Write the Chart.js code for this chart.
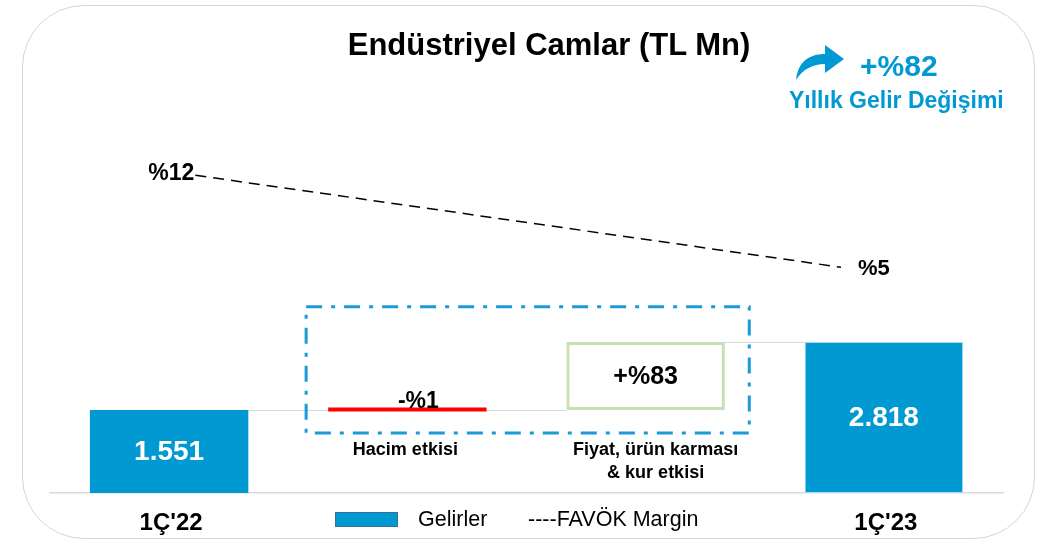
<!DOCTYPE html>
<html>
<head>
<meta charset="utf-8">
<script src="https://cdn.jsdelivr.net/npm/chart.js@4.4.1/dist/chart.umd.min.js"></script>
<style>
    html, body {
        margin: 0;
        padding: 0;
        background: #ffffff;
        font-family: "Liberation Sans", Arial, sans-serif;
    }
    #wrap {
        position: relative;
        width: 1042px;
        height: 542px;
        overflow: hidden;
    }
    #card {
        position: absolute;
        left: 22px;
        top: 5px;
        width: 1011px;
        height: 532px;
        border: 1.5px solid #d6d6d6;
        border-radius: 62px;
    }
    #chartBox {
        position: absolute;
        left: 0;
        top: 0;
        width: 1042px;
        height: 542px;
    }
    #title {
        position: absolute;
        left: 0;
        top: 27px;
        width: 1098px;
        text-align: center;
        font-weight: bold;
        font-size: 31px;
        line-height: 36px;
        color: #000000;
    }
    #yoy {
        position: absolute;
        left: 860px;
        top: 48px;
        font-weight: bold;
        font-size: 30px;
        line-height: 36px;
        color: #0099d4;
    }
    #yoyText {
        position: absolute;
        left: 789px;
        top: 86px;
        font-weight: bold;
        font-size: 23px;
        line-height: 28px;
        color: #0099d4;
    }
    #arrow {
        position: absolute;
        left: 794px;
        top: 42px;
    }
    .legend {
        position: absolute;
        top: 506px;
        font-size: 21.5px;
        line-height: 26px;
        color: #000000;
    }
    #legSwatch {
        position: absolute;
        left: 335px;
        top: 512px;
        width: 61px;
        height: 13px;
        background: #0099d1;
        border: 1.5px solid #3a6e9c;
    }
</style>
</head>
<body>
<div id="wrap">
    <div id="card"></div>
    <div id="chartBox"><canvas id="chart" width="1042" height="542"></canvas></div>
    <div id="title">Endüstriyel Camlar (TL Mn)</div>
    <svg id="arrow" width="52" height="40" viewBox="0 0 52 40">
        <path d="M2 38 C4 20 15 12 31 12 L31 3 L50 17 L31 31 L31 22 C19 22 9 27 2 38 Z" fill="#0099d4"></path>
    </svg>
    <div id="yoy">+%82</div>
    <div id="yoyText">Yıllık Gelir Değişimi</div>
    <div id="legSwatch"></div>
    <div class="legend" style="left:418px;">Gelirler</div>
    <div class="legend" style="left:528px;">----FAVÖK Margin</div>
</div>
<script>
    // categories along the bottom
    const categories = ["1Ç'22", 'Hacim etkisi', 'Fiyat, ürün karması & kur etkisi', "1Ç'23"];
    const tickLabels = ["1Ç'22", '', '', "1Ç'23"];
    const noteLabels = [null, ['Hacim etkisi'], ['Fiyat, ürün karması', '& kur etkisi'], null];

    // revenue bridge (TL Mn): start, volume effect, price/mix/fx effect, end
    const revenue = [1551, [1522, 1597], [1551, 2818], 2818];
    const valueLabels = ['1.551', '', '', '2.818'];
    const changeLabels = ['', '-%1', '+%83', ''];

    // FAVÖK margin (%), drawn on its own hidden x scale
    const marginX = [0.11, 2.82];
    const marginY = [12, 5];
    const marginLabels = ['%12', '%5'];

    const barColors = ['#0099d1', '#ff0000', 'rgba(255,255,255,0)', '#0099d1'];
    const barBorders = ['#0099d1', '#ff0000', '#c5e0b4', '#a9dcf2'];
    const barBorderWidths = [0, 0, 3, 1];

    const FONT = '"Liberation Sans", Arial, sans-serif';

    const bridgePlugin = {
        id: 'bridgeDecor',
        beforeDatasetsDraw(chart) {
            const ctx = chart.ctx;
            const y = chart.scales.y;
            const bars = chart.getDatasetMeta(0).data;

            // connectors between bars
            ctx.save();
            ctx.strokeStyle = '#d9d9d9';
            ctx.lineWidth = 1;
            ctx.beginPath();
            const y1 = Math.round(y.getPixelForValue(revenue[0])) + 0.5;
            ctx.moveTo(bars[0].x + bars[0].width / 2, y1);
            ctx.lineTo(bars[2].x - bars[2].width / 2, y1);
            const y2 = Math.round(y.getPixelForValue(revenue[3])) + 0.5;
            ctx.moveTo(bars[2].x + bars[2].width / 2, y2);
            ctx.lineTo(bars[3].x - bars[3].width / 2, y2);
            ctx.stroke();
            ctx.restore();
        },
        afterDatasetsDraw(chart) {
            const ctx = chart.ctx;
            const y = chart.scales.y;
            const x = chart.scales.x;
            const bars = chart.getDatasetMeta(0).data;
            const step = x.getPixelForValue(1) - x.getPixelForValue(0);
            const bottomPx = chart.chartArea.bottom;

            // dash-dot frame round the two effects
            ctx.save();
            ctx.strokeStyle = '#1a9ad6';
            ctx.lineWidth = 3;
            ctx.setLineDash([16, 9, 4, 9]);
            const left = x.getPixelForValue(1) - step * 0.425;
            const right = x.getPixelForValue(2) + step * 0.435;
            const top = y.getPixelForValue(3480);
            const bottom = y.getPixelForValue(1120);
            ctx.strokeRect(left, top, right - left, bottom - top);
            ctx.restore();

            ctx.save();
            ctx.textAlign = 'center';
            ctx.textBaseline = 'middle';

            // values inside the revenue bars
            ctx.fillStyle = '#ffffff';
            ctx.font = 'bold 28px ' + FONT;
            bars.forEach((bar, i) => {
                if (valueLabels[i]) {
                    ctx.fillText(valueLabels[i], bar.x, (bar.y + bar.base) / 2 + 1);
                }
            });

            // change labels
            ctx.fillStyle = '#000000';
            ctx.font = 'bold 23px ' + FONT;
            ctx.fillText(changeLabels[1], bars[1].x + 11, bars[1].y - 6);
            ctx.font = 'bold 25px ' + FONT;
            ctx.fillText(changeLabels[2], bars[2].x, (bars[2].y + bars[2].base) / 2 + 1);

            // notes under the effects
            ctx.font = 'bold 18px ' + FONT;
            noteLabels.forEach((lines, i) => {
                if (!lines) return;
                lines.forEach((line, j) => {
                    ctx.fillText(line, x.getPixelForValue(i) + (i === 2 ? 10 : -2), bottomPx - 43 + j * 23);
                });
            });

            // category labels under the axis
            ctx.font = 'bold 24px ' + FONT;
            tickLabels.forEach((label, i) => {
                if (label) ctx.fillText(label, x.getPixelForValue(i) + 2, bottomPx + 30);
            });

            // margin labels
            const lineMeta = chart.getDatasetMeta(1);
            ctx.font = 'bold 23px ' + FONT;
            const p0 = lineMeta.data[0];
            const p1 = lineMeta.data[1];
            ctx.textAlign = 'right';
            ctx.fillText(marginLabels[0], p0.x - 1, p0.y - 2);
            ctx.textAlign = 'left';
            ctx.font = 'bold 22px ' + FONT;
            ctx.fillText(marginLabels[1], p1.x + 17, p1.y + 2);
            ctx.restore();
        },
    };

    const ctx = document.getElementById('chart').getContext('2d');

    new Chart(ctx, {
        type: 'bar',
        data: {
            labels: categories,
            datasets: [
                {
                    type: 'bar',
                    label: 'Gelirler',
                    data: revenue,
                    backgroundColor: barColors,
                    borderColor: barBorders,
                    borderWidth: barBorderWidths,
                    borderSkipped: false,
                    grouped: false,
                    barPercentage: 0.665,
                    categoryPercentage: 1,
                    xAxisID: 'x',
                    yAxisID: 'y',
                },
                {
                    type: 'line',
                    label: 'FAVÖK Margin',
                    data: marginX.map((v, i) => ({ x: v, y: marginY[i] })),
                    borderColor: '#000000',
                    borderWidth: 1.5,
                    borderDash: [11, 7],
                    pointRadius: 0,
                    fill: false,
                    xAxisID: 'x2',
                    yAxisID: 'y2',
                },
            ],
        },
        options: {
            responsive: false,
            animation: false,
            layout: {
                padding: {
                    top: 80,
                    left: 50,
                    right: 39,
                    bottom: 49,
                },
            },
            plugins: {
                legend: { display: false },
                tooltip: { enabled: false },
            },
            scales: {
                x: {
                    type: 'category',
                    offset: true,
                    grid: {
                        display: false,
                        drawTicks: false,
                    },
                    border: {
                        display: true,
                        color: '#d9d9d9',
                        width: 1.5,
                    },
                    ticks: {
                        display: false,
                    },
                },
                x2: {
                    type: 'linear',
                    display: false,
                    offset: false,
                    min: -0.5,
                    max: 3.5,
                },
                y: {
                    display: false,
                    min: 0,
                    max: 7712,
                },
                y2: {
                    display: false,
                    min: -12.18,
                    max: 19.25,
                },
            },
        },
        plugins: [bridgePlugin],
    });
</script>
</body>
</html>
